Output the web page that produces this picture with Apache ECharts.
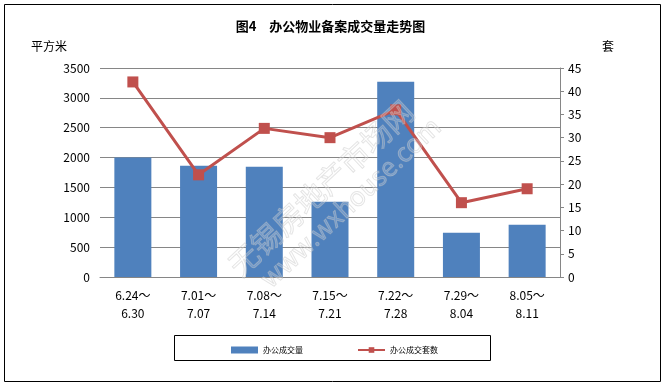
<!DOCTYPE html>
<html>
<head>
<meta charset="utf-8">
<script src="https://cdn.jsdelivr.net/npm/echarts@6/dist/echarts.min.js"></script>
<style>html,body{margin:0;padding:0;background:#fff}#c{width:661px;height:384px}</style>
</head>
<body>
<div id="c"></div>
<script>
const categories = ['6.24～\n6.30','7.01～\n7.07','7.08～\n7.14','7.15～\n7.21','7.22～\n7.28','7.29～\n8.04','8.05～\n8.11'];
const areaValues = [2003, 1864, 1847, 1261, 3270, 742, 876];
const unitValues = [42, 22, 32, 30, 36, 16, 19];
const leftTicks = {min: 0, max: 3500, interval: 500};
const rightTicks = {min: 0, max: 45, interval: 5};

const font = '"Noto Sans CJK SC", sans-serif';
const chart = echarts.init(document.getElementById('c'));
chart.setOption({
  animation: false,
  backgroundColor: '#fff',
  title: {
    text: '图4　办公物业备案成交量走势图',
    left: 'center', top: 15,
    textStyle: {fontFamily: font, fontSize: 13, fontWeight: 'bold', color: '#000'}
  },
  grid: {left: 100, right: 101, top: 68, bottom: 107},
  legend: {
    left: 226, top: 341, itemGap: 54,
    textStyle: {fontFamily: font, fontSize: 8, color: '#000'},
    data: [
      {name: '办公成交量', icon: 'rect', itemStyle: {color: '#4F81BD'}},
      {name: '办公成交套数'}
    ],
    itemWidth: 27, itemHeight: 7
  },
  xAxis: {
    type: 'category', data: categories,
    axisLine: {lineStyle: {color: '#868686'}},
    axisTick: {show: false},
    axisLabel: {fontFamily: font, fontSize: 12, color: '#000', lineHeight: 18, margin: 9}
  },
  yAxis: [
    {
      type: 'value', min: leftTicks.min, max: leftTicks.max, interval: leftTicks.interval,
      name: '平方米', nameGap: 16,
      nameTextStyle: {fontFamily: font, fontSize: 12, color: '#000', align: 'right', padding: [0, 33, 0, 0]},
      axisLine: {show: false}, axisTick: {show: false},
      axisLabel: {fontFamily: font, fontSize: 12, color: '#000', margin: 10, formatter: v => String(v)},
      splitLine: {lineStyle: {color: '#868686', width: 1}}
    },
    {
      type: 'value', min: rightTicks.min, max: rightTicks.max, interval: rightTicks.interval,
      name: '套', nameGap: 16,
      nameTextStyle: {fontFamily: font, fontSize: 12, color: '#000', align: 'left', padding: [0, 0, 0, 42]},
      axisLine: {show: true, lineStyle: {color: '#868686'}},
      axisTick: {show: true, length: 4, lineStyle: {color: '#868686'}},
      axisLabel: {fontFamily: font, fontSize: 12, color: '#000', margin: 8, formatter: v => String(v)},
      splitLine: {show: false}
    }
  ],
  series: [
    {
      name: '办公成交量', type: 'bar', data: areaValues, barWidth: 37,
      itemStyle: {color: '#4F81BD'}
    },
    {
      name: '办公成交套数', type: 'line', yAxisIndex: 1, data: unitValues,
      symbol: 'rect', symbolSize: 11,
      lineStyle: {color: '#C0504D', width: 3},
      itemStyle: {color: '#C0504D'}
    }
  ],
  graphic: [
    {type: 'rect', left: 2, top: 2, shape: {width: 656, height: 377}, style: {fill: 'none', stroke: '#000', lineWidth: 1}, silent: true, z: 100},
    {type: 'rect', left: 172, top: 333, shape: {width: 316, height: 25}, style: {fill: 'none', stroke: '#000', lineWidth: 1}, silent: true, z: 100},
    {type: 'text', x: 321, y: 188, rotation: 43 * Math.PI / 180, z: 50, silent: true,
      style: {text: '无锡房地产市场网', font: '30px ' + font, fill: 'rgba(255,255,255,0.2)', stroke: 'rgba(190,190,190,0.45)', lineWidth: 1, align: 'center', verticalAlign: 'middle'}},
    {type: 'text', x: 350, y: 202, rotation: 43 * Math.PI / 180, z: 50, silent: true,
      style: {text: 'www.wxhouse.com', font: '26px ' + font, fill: 'rgba(255,255,255,0.2)', stroke: 'rgba(190,190,190,0.45)', lineWidth: 1, align: 'center', verticalAlign: 'middle'}}
  ]
});
</script>
</body>
</html>
